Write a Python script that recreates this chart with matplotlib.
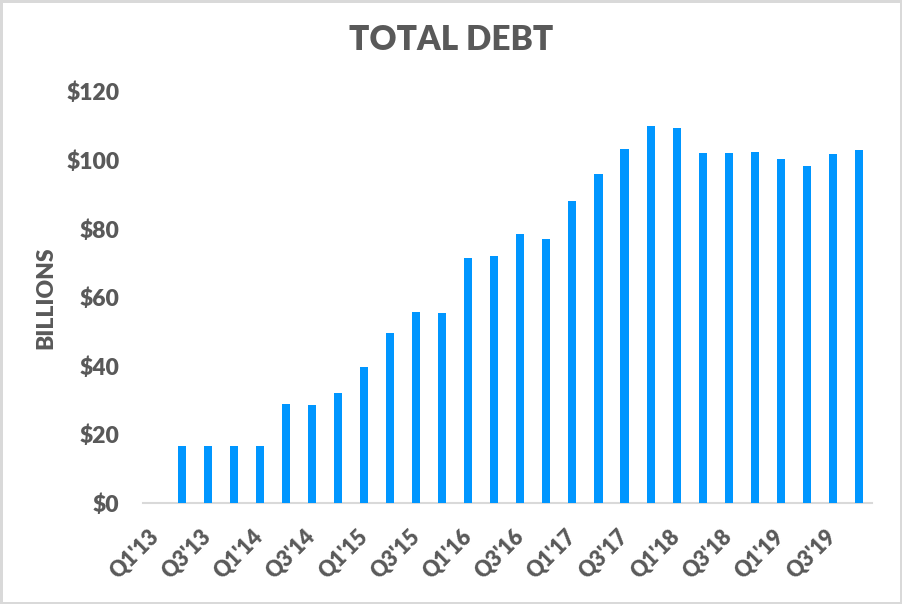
# Total debt by quarter, bar chart
import numpy as np
import matplotlib.pyplot as plt

# --------------------------------------------------- data
quarters = []
for yr in range(13, 20):
    for q in range(1, 5):
        quarters.append("Q%d'%d" % (q, yr))

# billions of dollars, Q1'13 has no value
debt = [np.nan, 16.6, 16.6, 16.6, 16.6, 28.8, 28.5, 32.0, 39.6, 49.5, 55.6, 55.3,
        71.6, 72.2, 78.6, 76.9, 88.2, 96.1, 103.4, 110.1, 109.5, 102.2, 102.2, 102.5,
        100.5, 98.2, 101.9, 103.1]

yticks = [0, 20, 40, 60, 80, 100, 120]
ytick_labels = ["$0", "$20", "$40", "$60", "$80", "$100", "$120"]

# --------------------------------------------------- style
plt.rcParams['font.family'] = ['Lato', 'DejaVu Sans']
grey = '#595959'
blue = '#0096FF'
wt = 'heavy'

fig = plt.figure(figsize=(9.02, 6.04), dpi=100, linewidth=2.5, edgecolor='#d9d9d9')
ax = fig.add_axes([0.1585, 0.1672, 0.808, 0.681])

x = np.arange(len(quarters))
ax.bar(x, np.nan_to_num(debt), width=0.31, color=blue, zorder=3)

ax.set_xlim(-0.5, len(quarters) - 0.5)
ax.set_ylim(0, 120)

ax.set_yticks(yticks)
ax.set_yticklabels(ytick_labels, fontsize=16.5, fontweight=wt, color=grey)
ax.set_xticks(x[::2])
ax.set_xticklabels(quarters[::2], fontsize=15.5, fontweight=wt, color=grey,
                   rotation=45, ha='right', va='center', rotation_mode='anchor')
ax.tick_params(axis='both', length=0)
ax.tick_params(axis='y', pad=17)
ax.tick_params(axis='x', pad=22)

for s in ['top', 'right', 'left']:
    ax.spines[s].set_visible(False)
ax.spines['bottom'].set_color('#d9d9d9')
ax.spines['bottom'].set_linewidth(1.5)

ax.set_ylabel("BILLIONS", fontsize=16.5, fontweight=wt, color=grey, labelpad=7)
fig.text(0.5, 0.933, "TOTAL DEBT", ha='center', va='center',
         fontsize=24, fontweight=wt, color=grey)

plt.savefig("out.png", dpi=100)
